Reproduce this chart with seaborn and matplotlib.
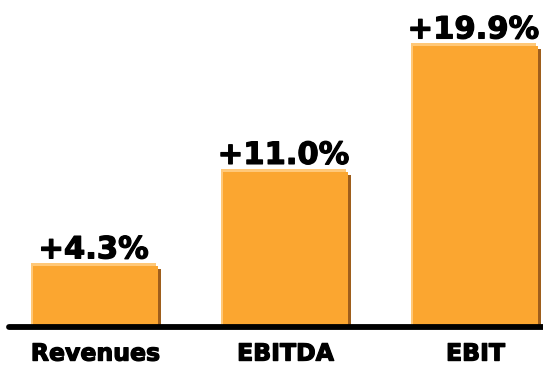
import matplotlib
matplotlib.use("Agg")
import matplotlib.pyplot as plt
import matplotlib.transforms as mtrans
import matplotlib.patheffects as pe
from matplotlib.patches import Rectangle
import seaborn as sns
import pandas as pd

categories = ["Revenues", "EBITDA", "EBIT"]
growth = [4.3, 11.0, 19.9]
value_labels = ["+4.3%", "+11.0%", "+19.9%"]

sns.set_style("white")
plt.rcParams["font.family"] = ["DejaVu Sans"]

MAIN = "#FBA630"
LIGHT = "#FFC878"
DARK = "#9E5E1C"

fig = plt.figure(figsize=(5.43, 3.65), dpi=100)
ax = fig.add_axes([0, 38 / 365, 1, 1 - 38 / 365])

df = pd.DataFrame({"cat": categories, "val": growth})
sns.barplot(data=df, x="cat", y="val", color=MAIN, saturation=1, width=0.658,
            ax=ax, zorder=3, linewidth=0)

light_tr = mtrans.offset_copy(ax.transData, fig=fig, x=-2, y=3, units="dots")
dark_tr = mtrans.offset_copy(ax.transData, fig=fig, x=3, y=-3, units="dots")
for p in list(ax.patches):
    x, w, h = p.get_x(), p.get_width(), p.get_height()
    ax.add_patch(Rectangle((x, 0), w, h, facecolor=LIGHT, edgecolor="none",
                           transform=light_tr, zorder=2))
    ax.add_patch(Rectangle((x, 0), w, h, facecolor=DARK, edgecolor="none",
                           transform=dark_tr, zorder=1))

heavy = [pe.withStroke(linewidth=0.9, foreground="black")]
for i, (v, lab) in enumerate(zip(growth, value_labels)):
    ax.annotate(lab, xy=(i, v), xytext=(-2, 8), textcoords="offset pixels",
                ha="center", va="baseline", fontsize=22, fontweight="bold",
                color="black", path_effects=heavy)

ax.set_xlim(-95.5 / 190, (543 - 95.5) / 190)
ax.set_ylim(0, 327 / 14.1)
ax.axhline(0, xmin=9 / 543, xmax=1, color="black", linewidth=4.2, zorder=5,
           clip_on=False)

ax.set_xlabel("")
ax.set_ylabel("")
ax.set_yticks([])
ax.tick_params(axis="x", length=0, pad=10.5, labelsize=17, labelcolor="black")
for t in ax.get_xticklabels():
    t.set_fontweight("bold")
    t.set_path_effects(heavy)
for s in ax.spines.values():
    s.set_visible(False)

fig.savefig("out.png", dpi=100)
